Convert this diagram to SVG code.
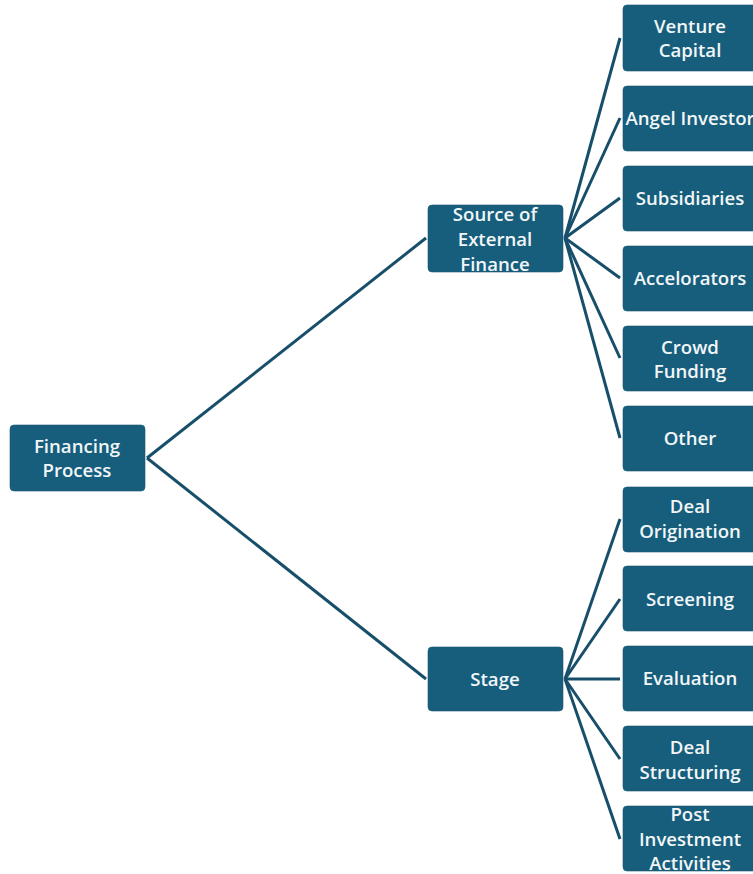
<svg xmlns="http://www.w3.org/2000/svg" width="753" height="874" viewBox="0 0 753 874">
<style>
.box{fill:#165e7c;stroke:#1b5571;stroke-width:0.6}
.t{fill:#f2f6f8;font-family:"Open Sans","Liberation Sans",sans-serif;font-size:18.6px;font-weight:600;text-anchor:middle}
.c{stroke:#174f6b;stroke-width:3;fill:none}
</style>
<rect width="753" height="874" fill="#ffffff"/>
<g id="connectors">
<line class="c" x1="147" y1="458" x2="426" y2="238"/>
<line class="c" x1="147" y1="458" x2="426" y2="679"/>
<line class="c" x1="565" y1="238" x2="620" y2="38"/>
<line class="c" x1="565" y1="238" x2="620" y2="118"/>
<line class="c" x1="565" y1="238" x2="620" y2="198"/>
<line class="c" x1="565" y1="238" x2="620" y2="278"/>
<line class="c" x1="565" y1="238" x2="620" y2="358"/>
<line class="c" x1="565" y1="238" x2="620" y2="438"/>
<line class="c" x1="565" y1="679" x2="620" y2="519"/>
<line class="c" x1="565" y1="679" x2="620" y2="599"/>
<line class="c" x1="565" y1="679" x2="620" y2="679"/>
<line class="c" x1="565" y1="679" x2="620" y2="759"/>
<line class="c" x1="565" y1="679" x2="620" y2="839"/>
</g>
<g id="financing-process">
<rect class="box" x="10" y="425" width="135" height="66" rx="4"/>
<text class="t" x="77" y="453">Financing</text>
<text class="t" x="77" y="477">Process</text>
</g>
<g id="source-external-finance">
<rect class="box" x="428" y="205" width="135" height="67" rx="4"/>
<text class="t" x="495" y="221">Source of</text>
<text class="t" x="495" y="246">External</text>
<text class="t" x="495" y="271">Finance</text>
</g>
<g id="stage">
<rect class="box" x="428" y="647" width="135" height="64" rx="4"/>
<text class="t" x="495" y="686">Stage</text>
</g>
<g id="venture-capital">
<rect class="box" x="623" y="5" width="135" height="66" rx="4"/>
<text class="t" x="690" y="33">Venture</text>
<text class="t" x="690" y="57">Capital</text>
</g>
<g id="angel-investor">
<rect class="box" x="623" y="86" width="135" height="65" rx="4"/>
<text class="t" x="690" y="125">Angel Investor</text>
</g>
<g id="subsidiaries">
<rect class="box" x="623" y="166" width="135" height="65" rx="4"/>
<text class="t" x="690" y="205">Subsidiaries</text>
</g>
<g id="accelorators">
<rect class="box" x="623" y="246" width="135" height="65" rx="4"/>
<text class="t" x="690" y="285">Accelorators</text>
</g>
<g id="crowd-funding">
<rect class="box" x="623" y="326" width="135" height="65" rx="4"/>
<text class="t" x="690" y="354">Crowd</text>
<text class="t" x="690" y="378">Funding</text>
</g>
<g id="other">
<rect class="box" x="623" y="406" width="135" height="65" rx="4"/>
<text class="t" x="690" y="445">Other</text>
</g>
<g id="deal-origination">
<rect class="box" x="623" y="487" width="135" height="65" rx="4"/>
<text class="t" x="690" y="513">Deal</text>
<text class="t" x="690" y="538">Origination</text>
</g>
<g id="screening">
<rect class="box" x="623" y="566" width="135" height="65" rx="4"/>
<text class="t" x="690" y="606">Screening</text>
</g>
<g id="evaluation">
<rect class="box" x="623" y="646" width="135" height="65" rx="4"/>
<text class="t" x="690" y="685">Evaluation</text>
</g>
<g id="deal-structuring">
<rect class="box" x="623" y="726" width="135" height="65" rx="4"/>
<text class="t" x="690" y="754">Deal</text>
<text class="t" x="690" y="779">Structuring</text>
</g>
<g id="post-investment-activities">
<rect class="box" x="623" y="806" width="135" height="65" rx="4"/>
<text class="t" x="690" y="821">Post</text>
<text class="t" x="690" y="846">Investment</text>
<text class="t" x="690" y="870">Activities</text>
</g>
</svg>
